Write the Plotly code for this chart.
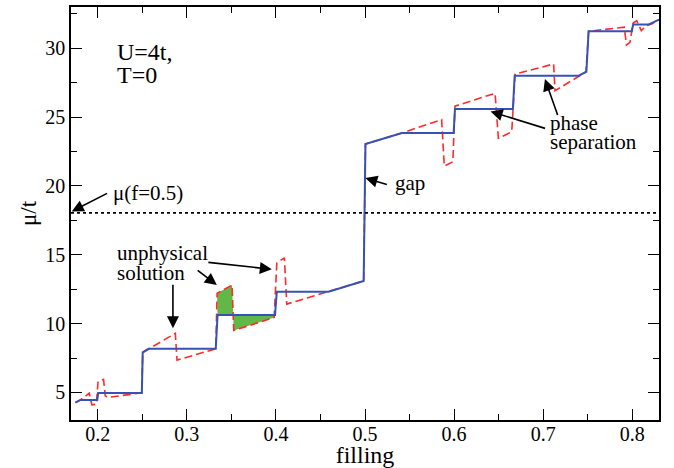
import plotly.graph_objects as go

# ---- data ----
blue_x = [0.175, 0.1806, 0.1995, 0.2005, 0.2495, 0.2505, 0.2572, 0.3325, 0.3345,
          0.3990, 0.4010, 0.4590, 0.4985, 0.5005, 0.5414, 0.5995, 0.6010, 0.6660,
          0.6680, 0.7400, 0.7485, 0.7510, 0.7995, 0.8010, 0.8180, 0.8300]
blue_y = [4.27, 4.46, 4.46, 4.97, 4.97, 7.91, 8.17, 8.17, 10.62,
          10.62, 12.32, 12.32, 13.10, 23.05, 23.85, 23.85, 25.59, 25.59,
          28.01, 28.01, 28.30, 31.24, 31.24, 31.72, 31.72, 32.08]

red_x = [0.175, 0.1806, 0.1905, 0.1935, 0.1985, 0.2003, 0.2065, 0.2085, 0.2120,
         0.2495, 0.2505, 0.2871, 0.2890, 0.3325, 0.3340, 0.3507, 0.3527, 0.3980,
         0.4010, 0.4095, 0.4122, 0.4590, 0.4985, 0.5005, 0.5414, 0.5860, 0.5890,
         0.5986, 0.6010, 0.6460, 0.6497, 0.6647, 0.6685, 0.7117, 0.7133, 0.7480,
         0.7510, 0.7910, 0.7935, 0.7974, 0.8010, 0.8050, 0.8084, 0.8102, 0.8158,
         0.8217, 0.8300]
red_y = [4.27, 4.46, 4.95, 4.10, 4.15, 5.75, 5.95, 4.75, 4.65,
         4.97, 7.91, 9.29, 7.35, 8.17, 12.20, 12.80, 9.50, 10.45,
         14.40, 14.78, 11.42, 12.32, 13.10, 23.05, 23.85, 24.82, 21.45,
         21.76, 25.80, 26.73, 23.46, 23.94, 28.13, 28.86, 26.92, 28.28,
         31.24, 31.53, 30.24, 30.43, 31.84, 32.00, 31.50, 31.28, 31.64,
         31.77, 32.08]

# unphysical regions (between red and blue curves)
green1_x = [0.3345, 0.3340, 0.3507, 0.3520]
green1_y = [10.62, 12.20, 12.80, 10.62]
green2_x = [0.3520, 0.3527, 0.3980, 0.3990]
green2_y = [10.62, 9.50, 10.45, 10.62]

mu_half = 18.05

x_ticks = [0.2, 0.3, 0.4, 0.5, 0.6, 0.7, 0.8]
y_ticks = [5, 10, 15, 20, 25, 30]

SERIF = "Liberation Serif"
GREEN = "#62b846"
RED = "#ff2a2a"
BLUE = "#3652b6"

fig = go.Figure()

for gx, gy in [(green1_x, green1_y), (green2_x, green2_y)]:
    fig.add_trace(go.Scatter(x=gx, y=gy, mode="lines", fill="toself",
                             fillcolor=GREEN, line=dict(width=0, color=GREEN),
                             hoverinfo="skip", showlegend=False))

fig.add_trace(go.Scatter(x=red_x, y=red_y, mode="lines",
                         line=dict(color=RED, width=1.6, dash="8px,4px"),
                         showlegend=False))
fig.add_trace(go.Scatter(x=blue_x, y=blue_y, mode="lines",
                         line=dict(color=BLUE, width=2),
                         showlegend=False))

fig.add_hline(y=mu_half, line=dict(color="black", width=1.8, dash="dot"))

# text labels
texts = [
    ("U=4t,", 0.2202, 29.72, 24),
    ("T=0", 0.2202, 28.05, 24),
    ("μ(f=0.5)", 0.2155, 19.50, 21),
    ("unphysical", 0.2200, 15.14, 21),
    ("solution", 0.2200, 13.69, 21),
    ("gap", 0.5330, 20.23, 21),
    ("phase", 0.7070, 24.59, 21),
    ("separation", 0.7070, 23.19, 21),
]
for t, x, y, s in texts:
    fig.add_annotation(x=x, y=y, text=t, showarrow=False, xanchor="left",
                       yanchor="middle", borderpad=0,
                       font=dict(family=SERIF, size=s, color="black"))

# arrows: (tail_x, tail_y, head_x, head_y)
arrows = [
    (0.2122, 19.52, 0.1708, 18.15),
    (0.5262, 20.08, 0.5004, 20.57),
    (0.2844, 12.94, 0.2844, 9.67),
    (0.3105, 13.95, 0.3337, 12.81),
    (0.3225, 14.46, 0.3954, 13.95),
    (0.7168, 25.05, 0.7020, 27.77),
    (0.7038, 24.15, 0.6410, 25.41),
]
for tx, ty, hx, hy in arrows:
    fig.add_annotation(x=hx, y=hy, ax=tx, ay=ty, xref="x", yref="y",
                       axref="x", ayref="y", text="", showarrow=True,
                       arrowhead=2, arrowsize=1.5, arrowwidth=1.6,
                       arrowcolor="black", standoff=0, startstandoff=0)

axis_common = dict(
    showline=True, linecolor="black", linewidth=1.5, mirror="ticks",
    ticks="inside", ticklen=11, tickwidth=1.3, tickcolor="black",
    showgrid=False, zeroline=False, automargin=False,
    tickfont=dict(family=SERIF, size=20, color="black"),
)

fig.update_xaxes(range=[0.17, 0.83], tickvals=x_ticks,
                 ticktext=[f"{v:.1f}" for v in x_ticks],
                 ticklabelstandoff=-5,
                 minor=dict(dtick=0.05, tick0=0.0, ticks="inside", ticklen=6,
                            tickwidth=1.2, tickcolor="black", showgrid=False),
                 title=dict(text="filling", font=dict(family=SERIF, size=24, color="black"),
                            standoff=4),
                 **axis_common)
fig.update_yaxes(range=[3, 33], tickvals=y_ticks,
                 ticktext=[str(v) for v in y_ticks],
                 minor=dict(dtick=2.5, tick0=0.0, ticks="inside", ticklen=6,
                            tickwidth=1.2, tickcolor="black", showgrid=False),
                 title=dict(text="μ/t", font=dict(family=SERIF, size=23, color="black"),
                            standoff=2),
                 **axis_common)

fig.update_layout(width=674, height=468,
                  margin=dict(l=71, r=15, t=7, b=48, autoexpand=False),
                  plot_bgcolor="white", paper_bgcolor="white",
                  font=dict(family=SERIF),
                  showlegend=False)

fig.write_html("out.html", config={"displayModeBar": False},
               post_script="document.body.style.margin='0px';document.body.style.padding='0px';")
